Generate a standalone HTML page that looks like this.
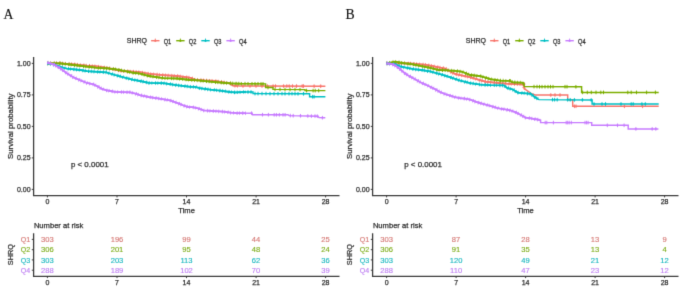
<!DOCTYPE html><html><head><meta charset="utf-8"><style>html,body{margin:0;padding:0;background:#fff;}svg{display:block;}#w{width:685px;height:297px;will-change:transform;}</style></head><body>
<div id="w"><svg width="685" height="297" viewBox="0 0 685 297" font-family='"Liberation Sans", sans-serif'>
<defs><filter id="bl" x="0" y="0" width="100%" height="100%" color-interpolation-filters="sRGB"><feConvolveMatrix order="3" kernelMatrix="0 1 0 1 6 1 0 1 0" edgeMode="duplicate"/></filter></defs>
<g filter="url(#bl)"><rect width="685" height="297" fill="#fff"/>
<g stroke-width="0.25" style="paint-order:stroke">
<text x="3.6" y="18.7" font-family='"Liberation Serif", serif' font-size="13.7" fill="#111" stroke="#111" stroke-width="0.15">A</text>
<text x="126.8" y="43.4" font-size="7" fill="#2e2e2e" stroke="#2e2e2e">SHRQ</text>
<line x1="151.1" y1="40.7" x2="159.5" y2="40.7" stroke="#F8766D" stroke-width="1.4"/>
<path d="M153.1,40.7 L155.3,39.4 L157.5,40.7 L155.3,41.7 Z" fill="#F8766D"/>
<line x1="155.3" y1="38.6" x2="155.3" y2="41.8" stroke="#F8766D" stroke-width="0.9"/>
<text transform="translate(163.7,43.6) scale(0.87,1)" font-size="6.5" fill="#2e2e2e" stroke="#2e2e2e">Q1</text>
<line x1="176.2" y1="40.7" x2="184.6" y2="40.7" stroke="#7CAE00" stroke-width="1.4"/>
<path d="M178.2,40.7 L180.4,39.4 L182.6,40.7 L180.4,41.7 Z" fill="#7CAE00"/>
<line x1="180.4" y1="38.6" x2="180.4" y2="41.8" stroke="#7CAE00" stroke-width="0.9"/>
<text transform="translate(188.8,43.6) scale(0.87,1)" font-size="6.5" fill="#2e2e2e" stroke="#2e2e2e">Q2</text>
<line x1="201.3" y1="40.7" x2="209.7" y2="40.7" stroke="#00BFC4" stroke-width="1.4"/>
<path d="M203.3,40.7 L205.5,39.4 L207.7,40.7 L205.5,41.7 Z" fill="#00BFC4"/>
<line x1="205.5" y1="38.6" x2="205.5" y2="41.8" stroke="#00BFC4" stroke-width="0.9"/>
<text transform="translate(213.9,43.6) scale(0.87,1)" font-size="6.5" fill="#2e2e2e" stroke="#2e2e2e">Q3</text>
<line x1="226.4" y1="40.7" x2="234.8" y2="40.7" stroke="#C77CFF" stroke-width="1.4"/>
<path d="M228.4,40.7 L230.6,39.4 L232.8,40.7 L230.6,41.7 Z" fill="#C77CFF"/>
<line x1="230.6" y1="38.6" x2="230.6" y2="41.8" stroke="#C77CFF" stroke-width="0.9"/>
<text transform="translate(239.0,43.6) scale(0.87,1)" font-size="6.5" fill="#2e2e2e" stroke="#2e2e2e">Q4</text>
<polyline points="47.4,63.4 60.0,63.3 73.6,64.3 87.0,65.6 96.5,66.3 108.5,68.2 121.9,71.0 135.4,71.8 140.0,72.1 148.8,73.8 163.5,75.1 176.9,76.0 190.4,77.8 195.0,79.7 205.0,80.5 215.0,81.0 225.0,82.6 231.0,83.5 233.0,85.6 240.0,86.0 325.4,86.2" fill="none" stroke="#F8766D" stroke-width="1.45" stroke-linejoin="miter"/>
<polyline points="47.4,63.4 60.0,63.3 73.6,64.3 87.0,65.6 96.5,66.3 108.5,68.2 121.9,71.0 135.4,71.8 140.0,72.1 148.8,73.8 163.5,75.1 176.9,76.0 190.4,77.8 195.0,79.7 205.0,80.5 215.0,81.0 225.0,82.6 231.0,83.5 233.0,85.6 238.0,85.9" fill="none" stroke="#F8766D" stroke-width="1.8" stroke-linejoin="miter"/>
<polyline points="47.4,63.4 60.0,63.3 73.6,64.3 87.0,65.6 96.5,66.3 108.5,68.2 121.9,71.0 135.4,71.8 140.0,72.1 148.8,73.8 163.5,75.1 176.9,76.0 190.4,77.8 195.0,79.7 205.0,80.5 215.0,81.0 225.0,82.6 231.0,83.5 233.0,85.6 238.0,85.9" fill="none" stroke="#F8766D" stroke-width="3.6" stroke-dasharray="0.8 2.0 0.7 2.9 0.9 1.5 0.7 2.5 1.0 1.8" stroke-linejoin="miter"/>
<path d="M243.0,84.2v3.6M241.8,86.0h2.4M250.0,84.2v3.6M248.8,86.0h2.4M256.0,84.2v3.6M254.8,86.0h2.4M262.0,84.3v3.6M260.8,86.1h2.4M267.4,84.3v3.6M266.2,86.1h2.4M273.1,84.3v3.6M271.9,86.1h2.4M275.5,84.3v3.6M274.3,86.1h2.4M283.6,84.3v3.6M282.4,86.1h2.4M286.8,84.3v3.6M285.6,86.1h2.4M289.2,84.3v3.6M288.0,86.1h2.4M292.5,84.3v3.6M291.3,86.1h2.4M296.5,84.3v3.6M295.3,86.1h2.4M302.2,84.3v3.6M301.0,86.1h2.4M303.5,84.3v3.6M302.3,86.1h2.4M314.1,84.4v3.6M312.9,86.2h2.4M320.7,84.4v3.6M319.5,86.2h2.4" stroke="#F8766D" stroke-width="1" fill="none"/>
<polyline points="47.4,63.4 60.2,63.4 73.6,65.0 87.1,66.7 97.5,67.9 106.3,68.3 115.0,69.2 123.8,70.9 132.5,72.7 140.0,73.6 148.8,76.0 163.5,78.1 176.9,78.5 190.4,80.0 195.0,80.1 215.0,82.1 230.0,83.3 240.0,83.7 265.6,83.9 265.6,87.5 273.0,87.5 273.0,89.4 305.0,89.6 305.0,90.6 325.4,90.6" fill="none" stroke="#7CAE00" stroke-width="1.45" stroke-linejoin="miter"/>
<polyline points="47.4,63.4 60.2,63.4 73.6,65.0 87.1,66.7 97.5,67.9 106.3,68.3 115.0,69.2 123.8,70.9 132.5,72.7 140.0,73.6 148.8,76.0 163.5,78.1 176.9,78.5 190.4,80.0 195.0,80.1 215.0,82.1 230.0,83.3 240.0,83.7 242.0,83.7" fill="none" stroke="#7CAE00" stroke-width="1.8" stroke-linejoin="miter"/>
<polyline points="47.4,63.4 60.2,63.4 73.6,65.0 87.1,66.7 97.5,67.9 106.3,68.3 115.0,69.2 123.8,70.9 132.5,72.7 140.0,73.6 148.8,76.0 163.5,78.1 176.9,78.5 190.4,80.0 195.0,80.1 215.0,82.1 230.0,83.3 240.0,83.7 242.0,83.7" fill="none" stroke="#7CAE00" stroke-width="3.6" stroke-dasharray="0.8 2.0 0.7 2.9 0.9 1.5 0.7 2.5 1.0 1.8" stroke-linejoin="miter"/>
<path d="M245.0,81.9v3.6M243.8,83.7h2.4M248.0,82.0v3.6M246.8,83.8h2.4M252.0,82.0v3.6M250.8,83.8h2.4M255.0,82.0v3.6M253.8,83.8h2.4M258.0,82.0v3.6M256.8,83.8h2.4M261.0,82.1v3.6M259.8,83.9h2.4M263.0,82.1v3.6M261.8,83.9h2.4M268.0,85.7v3.6M266.8,87.5h2.4M275.0,87.6v3.6M273.8,89.4h2.4M280.0,87.6v3.6M278.8,89.4h2.4M285.0,87.7v3.6M283.8,89.5h2.4M290.0,87.7v3.6M288.8,89.5h2.4M295.0,87.7v3.6M293.8,89.5h2.4M300.0,87.8v3.6M298.8,89.6h2.4M306.6,88.8v3.6M305.4,90.6h2.4M313.1,88.8v3.6M311.9,90.6h2.4M315.2,88.8v3.6M314.0,90.6h2.4M318.7,88.8v3.6M317.5,90.6h2.4" stroke="#7CAE00" stroke-width="1" fill="none"/>
<polyline points="47.4,63.4 53.5,64.4 60.2,66.9 66.9,68.6 73.6,69.3 80.4,70.0 87.1,71.2 97.5,71.8 106.3,72.4 115.0,75.0 123.8,77.4 132.5,79.6 140.0,81.0 148.8,82.9 163.5,83.2 176.9,85.2 190.4,86.8 195.0,86.9 200.0,88.2 210.0,89.6 220.0,90.6 230.0,92.0 235.0,92.4 245.0,92.0 253.0,92.0 253.0,93.6 309.6,93.8 309.6,96.7 325.4,96.7" fill="none" stroke="#00BFC4" stroke-width="1.45" stroke-linejoin="miter"/>
<polyline points="47.4,63.4 53.5,64.4 60.2,66.9 66.9,68.6 73.6,69.3 80.4,70.0 87.1,71.2 97.5,71.8 106.3,72.4 115.0,75.0 123.8,77.4 132.5,79.6 140.0,81.0 148.8,82.9 163.5,83.2 176.9,85.2 190.4,86.8 195.0,86.9 200.0,88.2 210.0,89.6 220.0,90.6 230.0,92.0 235.0,92.4 245.0,92.0 246.0,92.0" fill="none" stroke="#00BFC4" stroke-width="1.8" stroke-linejoin="miter"/>
<polyline points="47.4,63.4 53.5,64.4 60.2,66.9 66.9,68.6 73.6,69.3 80.4,70.0 87.1,71.2 97.5,71.8 106.3,72.4 115.0,75.0 123.8,77.4 132.5,79.6 140.0,81.0 148.8,82.9 163.5,83.2 176.9,85.2 190.4,86.8 195.0,86.9 200.0,88.2 210.0,89.6 220.0,90.6 230.0,92.0 235.0,92.4 245.0,92.0 246.0,92.0" fill="none" stroke="#00BFC4" stroke-width="3.6" stroke-dasharray="0.8 2.0 0.7 2.9 0.9 1.5 0.7 2.5 1.0 1.8" stroke-linejoin="miter"/>
<path d="M248.0,90.2v3.6M246.8,92.0h2.4M251.0,90.2v3.6M249.8,92.0h2.4M255.0,91.8v3.6M253.8,93.6h2.4M258.0,91.8v3.6M256.8,93.6h2.4M262.0,91.8v3.6M260.8,93.6h2.4M266.0,91.8v3.6M264.8,93.6h2.4M270.0,91.9v3.6M268.8,93.7h2.4M274.0,91.9v3.6M272.8,93.7h2.4M278.0,91.9v3.6M276.8,93.7h2.4M282.0,91.9v3.6M280.8,93.7h2.4M285.0,91.9v3.6M283.8,93.7h2.4M289.0,91.9v3.6M287.8,93.7h2.4M292.0,91.9v3.6M290.8,93.7h2.4M295.0,91.9v3.6M293.8,93.7h2.4M298.0,92.0v3.6M296.8,93.8h2.4M303.5,92.0v3.6M302.3,93.8h2.4M312.6,94.9v3.6M311.4,96.7h2.4M314.1,94.9v3.6M312.9,96.7h2.4" stroke="#00BFC4" stroke-width="1" fill="none"/>
<polyline points="47.4,62.6 53.5,64.4 60.2,68.3 66.9,73.3 73.6,77.4 80.4,80.4 87.1,83.0 93.4,84.4 97.6,86.4 101.8,88.8 106.1,90.2 110.3,91.0 115.0,91.8 121.9,92.1 130.0,92.3 135.4,93.6 140.0,95.2 148.8,97.0 157.5,98.3 163.5,99.3 170.0,100.4 176.9,102.8 183.5,105.5 188.2,107.0 192.5,107.2 196.9,108.0 203.7,110.4 210.4,110.9 223.9,111.7 230.6,112.6 237.3,113.1 252.0,113.2 252.5,114.7 288.0,114.8 289.0,115.6 318.0,116.2 319.0,117.6 325.3,117.8" fill="none" stroke="#C77CFF" stroke-width="1.45" stroke-linejoin="miter"/>
<polyline points="47.4,62.6 53.5,64.4 60.2,68.3 66.9,73.3 73.6,77.4 80.4,80.4 87.1,83.0 93.4,84.4 97.6,86.4 101.8,88.8 106.1,90.2 110.3,91.0 115.0,91.8 121.9,92.1 130.0,92.3 135.4,93.6 140.0,95.2 148.8,97.0 157.5,98.3 163.5,99.3 170.0,100.4 176.9,102.8 183.5,105.5 188.2,107.0 192.5,107.2 196.9,108.0 203.7,110.4 210.4,110.9 223.9,111.7 230.6,112.6 237.3,113.1 246.0,113.2" fill="none" stroke="#C77CFF" stroke-width="1.8" stroke-linejoin="miter"/>
<polyline points="47.4,62.6 53.5,64.4 60.2,68.3 66.9,73.3 73.6,77.4 80.4,80.4 87.1,83.0 93.4,84.4 97.6,86.4 101.8,88.8 106.1,90.2 110.3,91.0 115.0,91.8 121.9,92.1 130.0,92.3 135.4,93.6 140.0,95.2 148.8,97.0 157.5,98.3 163.5,99.3 170.0,100.4 176.9,102.8 183.5,105.5 188.2,107.0 192.5,107.2 196.9,108.0 203.7,110.4 210.4,110.9 223.9,111.7 230.6,112.6 237.3,113.1 246.0,113.2" fill="none" stroke="#C77CFF" stroke-width="3.6" stroke-dasharray="0.8 2.0 0.7 2.9 0.9 1.5 0.7 2.5 1.0 1.8" stroke-linejoin="miter"/>
<path d="M251.6,111.4v3.6M250.4,113.2h2.4M262.5,112.9v3.6M261.3,114.7h2.4M268.4,112.9v3.6M267.2,114.7h2.4M274.2,113.0v3.6M273.0,114.8h2.4M276.4,113.0v3.6M275.2,114.8h2.4M279.3,113.0v3.6M278.1,114.8h2.4M283.0,113.0v3.6M281.8,114.8h2.4M285.1,113.0v3.6M283.9,114.8h2.4M290.3,113.8v3.6M289.1,115.6h2.4M293.2,113.9v3.6M292.0,115.7h2.4M300.5,114.0v3.6M299.3,115.8h2.4M307.8,114.2v3.6M306.6,116.0h2.4M311.4,114.3v3.6M310.2,116.1h2.4M315.0,114.3v3.6M313.8,116.1h2.4M317.3,114.4v3.6M316.1,116.2h2.4M322.4,115.9v3.6M321.2,117.7h2.4" stroke="#C77CFF" stroke-width="1" fill="none"/>
<path d="M33.6,57.1 V195.6 H339.5" fill="none" stroke="#3c3c3c" stroke-width="1.3"/>
<line x1="31.8" y1="63.4" x2="33.6" y2="63.4" stroke="#3c3c3c" stroke-width="1"/>
<text x="30.6" y="65.9" font-size="7" fill="#2e2e2e" stroke="#2e2e2e" text-anchor="end">1.00</text>
<line x1="31.8" y1="94.9" x2="33.6" y2="94.9" stroke="#3c3c3c" stroke-width="1"/>
<text x="30.6" y="97.4" font-size="7" fill="#2e2e2e" stroke="#2e2e2e" text-anchor="end">0.75</text>
<line x1="31.8" y1="126.4" x2="33.6" y2="126.4" stroke="#3c3c3c" stroke-width="1"/>
<text x="30.6" y="128.9" font-size="7" fill="#2e2e2e" stroke="#2e2e2e" text-anchor="end">0.50</text>
<line x1="31.8" y1="157.9" x2="33.6" y2="157.9" stroke="#3c3c3c" stroke-width="1"/>
<text x="30.6" y="160.4" font-size="7" fill="#2e2e2e" stroke="#2e2e2e" text-anchor="end">0.25</text>
<line x1="31.8" y1="189.4" x2="33.6" y2="189.4" stroke="#3c3c3c" stroke-width="1"/>
<text x="30.6" y="191.9" font-size="7" fill="#2e2e2e" stroke="#2e2e2e" text-anchor="end">0.00</text>
<line x1="47.4" y1="195.6" x2="47.4" y2="197.4" stroke="#3c3c3c" stroke-width="1"/>
<text x="47.4" y="204" font-size="7" fill="#2e2e2e" stroke="#2e2e2e" text-anchor="middle">0</text>
<line x1="117.0" y1="195.6" x2="117.0" y2="197.4" stroke="#3c3c3c" stroke-width="1"/>
<text x="117.0" y="204" font-size="7" fill="#2e2e2e" stroke="#2e2e2e" text-anchor="middle">7</text>
<line x1="186.5" y1="195.6" x2="186.5" y2="197.4" stroke="#3c3c3c" stroke-width="1"/>
<text x="186.5" y="204" font-size="7" fill="#2e2e2e" stroke="#2e2e2e" text-anchor="middle">14</text>
<line x1="256.1" y1="195.6" x2="256.1" y2="197.4" stroke="#3c3c3c" stroke-width="1"/>
<text x="256.1" y="204" font-size="7" fill="#2e2e2e" stroke="#2e2e2e" text-anchor="middle">21</text>
<line x1="325.6" y1="195.6" x2="325.6" y2="197.4" stroke="#3c3c3c" stroke-width="1"/>
<text x="325.6" y="204" font-size="7" fill="#2e2e2e" stroke="#2e2e2e" text-anchor="middle">28</text>
<text x="186.6" y="213" font-size="7.6" fill="#2e2e2e" stroke="#2e2e2e" text-anchor="middle">Time</text>
<text transform="translate(13.3,126.2) rotate(-90)" font-size="7.8" fill="#2e2e2e" stroke="#2e2e2e" text-anchor="middle">Survival probability</text>
<text x="70.9" y="167.1" font-size="7.95" fill="#2e2e2e" stroke="#2e2e2e">p &lt; 0.0001</text>
<text x="33.9" y="228" font-size="7.6" fill="#2e2e2e" stroke="#2e2e2e">Number at risk</text>
<path d="M33.6,233.2 V276.3 H339.5" fill="none" stroke="#3c3c3c" stroke-width="1.3"/>
<line x1="31.8" y1="239.4" x2="33.6" y2="239.4" stroke="#3c3c3c" stroke-width="1"/>
<text x="30.2" y="242.0" font-size="7.1" fill="#D67A76" stroke="#D67A76" stroke-width="0.15" text-anchor="end">Q1</text>
<text x="47.4" y="242.0" font-size="7.6" fill="#D67A76" stroke="#D67A76" stroke-width="0.15" text-anchor="middle">303</text>
<text x="117.0" y="242.0" font-size="7.6" fill="#D67A76" stroke="#D67A76" stroke-width="0.15" text-anchor="middle">196</text>
<text x="186.5" y="242.0" font-size="7.6" fill="#D67A76" stroke="#D67A76" stroke-width="0.15" text-anchor="middle">99</text>
<text x="256.1" y="242.0" font-size="7.6" fill="#D67A76" stroke="#D67A76" stroke-width="0.15" text-anchor="middle">44</text>
<text x="325.6" y="242.0" font-size="7.6" fill="#D67A76" stroke="#D67A76" stroke-width="0.15" text-anchor="middle">25</text>
<line x1="31.8" y1="249.7" x2="33.6" y2="249.7" stroke="#3c3c3c" stroke-width="1"/>
<text x="30.2" y="252.3" font-size="7.1" fill="#7FAE1C" stroke="#7FAE1C" stroke-width="0.15" text-anchor="end">Q2</text>
<text x="47.4" y="252.3" font-size="7.6" fill="#7FAE1C" stroke="#7FAE1C" stroke-width="0.15" text-anchor="middle">306</text>
<text x="117.0" y="252.3" font-size="7.6" fill="#7FAE1C" stroke="#7FAE1C" stroke-width="0.15" text-anchor="middle">201</text>
<text x="186.5" y="252.3" font-size="7.6" fill="#7FAE1C" stroke="#7FAE1C" stroke-width="0.15" text-anchor="middle">95</text>
<text x="256.1" y="252.3" font-size="7.6" fill="#7FAE1C" stroke="#7FAE1C" stroke-width="0.15" text-anchor="middle">48</text>
<text x="325.6" y="252.3" font-size="7.6" fill="#7FAE1C" stroke="#7FAE1C" stroke-width="0.15" text-anchor="middle">24</text>
<line x1="31.8" y1="259.9" x2="33.6" y2="259.9" stroke="#3c3c3c" stroke-width="1"/>
<text x="30.2" y="262.5" font-size="7.1" fill="#1DB8C0" stroke="#1DB8C0" stroke-width="0.15" text-anchor="end">Q3</text>
<text x="47.4" y="262.5" font-size="7.6" fill="#1DB8C0" stroke="#1DB8C0" stroke-width="0.15" text-anchor="middle">303</text>
<text x="117.0" y="262.5" font-size="7.6" fill="#1DB8C0" stroke="#1DB8C0" stroke-width="0.15" text-anchor="middle">203</text>
<text x="186.5" y="262.5" font-size="7.6" fill="#1DB8C0" stroke="#1DB8C0" stroke-width="0.15" text-anchor="middle">113</text>
<text x="256.1" y="262.5" font-size="7.6" fill="#1DB8C0" stroke="#1DB8C0" stroke-width="0.15" text-anchor="middle">62</text>
<text x="325.6" y="262.5" font-size="7.6" fill="#1DB8C0" stroke="#1DB8C0" stroke-width="0.15" text-anchor="middle">36</text>
<line x1="31.8" y1="270.2" x2="33.6" y2="270.2" stroke="#3c3c3c" stroke-width="1"/>
<text x="30.2" y="272.8" font-size="7.1" fill="#BF82F2" stroke="#BF82F2" stroke-width="0.15" text-anchor="end">Q4</text>
<text x="47.4" y="272.8" font-size="7.6" fill="#BF82F2" stroke="#BF82F2" stroke-width="0.15" text-anchor="middle">288</text>
<text x="117.0" y="272.8" font-size="7.6" fill="#BF82F2" stroke="#BF82F2" stroke-width="0.15" text-anchor="middle">189</text>
<text x="186.5" y="272.8" font-size="7.6" fill="#BF82F2" stroke="#BF82F2" stroke-width="0.15" text-anchor="middle">102</text>
<text x="256.1" y="272.8" font-size="7.6" fill="#BF82F2" stroke="#BF82F2" stroke-width="0.15" text-anchor="middle">70</text>
<text x="325.6" y="272.8" font-size="7.6" fill="#BF82F2" stroke="#BF82F2" stroke-width="0.15" text-anchor="middle">39</text>
<line x1="47.4" y1="276.3" x2="47.4" y2="278.1" stroke="#3c3c3c" stroke-width="1"/>
<text x="47.4" y="284.8" font-size="7" fill="#2e2e2e" stroke="#2e2e2e" text-anchor="middle">0</text>
<line x1="117.0" y1="276.3" x2="117.0" y2="278.1" stroke="#3c3c3c" stroke-width="1"/>
<text x="117.0" y="284.8" font-size="7" fill="#2e2e2e" stroke="#2e2e2e" text-anchor="middle">7</text>
<line x1="186.5" y1="276.3" x2="186.5" y2="278.1" stroke="#3c3c3c" stroke-width="1"/>
<text x="186.5" y="284.8" font-size="7" fill="#2e2e2e" stroke="#2e2e2e" text-anchor="middle">14</text>
<line x1="256.1" y1="276.3" x2="256.1" y2="278.1" stroke="#3c3c3c" stroke-width="1"/>
<text x="256.1" y="284.8" font-size="7" fill="#2e2e2e" stroke="#2e2e2e" text-anchor="middle">21</text>
<line x1="325.6" y1="276.3" x2="325.6" y2="278.1" stroke="#3c3c3c" stroke-width="1"/>
<text x="325.6" y="284.8" font-size="7" fill="#2e2e2e" stroke="#2e2e2e" text-anchor="middle">28</text>
<text transform="translate(13.1,254.6) rotate(-90)" font-size="7.3" fill="#2e2e2e" stroke="#2e2e2e" text-anchor="middle">SHRQ</text>
<text x="345.4" y="18.7" font-family='"Liberation Serif", serif' font-size="13.7" fill="#111" stroke="#111" stroke-width="0.15">B</text>
<text x="465.8" y="43.4" font-size="7" fill="#2e2e2e" stroke="#2e2e2e">SHRQ</text>
<line x1="490.1" y1="40.7" x2="498.5" y2="40.7" stroke="#F8766D" stroke-width="1.4"/>
<path d="M492.1,40.7 L494.3,39.4 L496.5,40.7 L494.3,41.7 Z" fill="#F8766D"/>
<line x1="494.3" y1="38.6" x2="494.3" y2="41.8" stroke="#F8766D" stroke-width="0.9"/>
<text transform="translate(502.7,43.6) scale(0.87,1)" font-size="6.5" fill="#2e2e2e" stroke="#2e2e2e">Q1</text>
<line x1="515.2" y1="40.7" x2="523.6" y2="40.7" stroke="#7CAE00" stroke-width="1.4"/>
<path d="M517.2,40.7 L519.4,39.4 L521.6,40.7 L519.4,41.7 Z" fill="#7CAE00"/>
<line x1="519.4" y1="38.6" x2="519.4" y2="41.8" stroke="#7CAE00" stroke-width="0.9"/>
<text transform="translate(527.8,43.6) scale(0.87,1)" font-size="6.5" fill="#2e2e2e" stroke="#2e2e2e">Q2</text>
<line x1="540.3" y1="40.7" x2="548.7" y2="40.7" stroke="#00BFC4" stroke-width="1.4"/>
<path d="M542.3,40.7 L544.5,39.4 L546.7,40.7 L544.5,41.7 Z" fill="#00BFC4"/>
<line x1="544.5" y1="38.6" x2="544.5" y2="41.8" stroke="#00BFC4" stroke-width="0.9"/>
<text transform="translate(552.9,43.6) scale(0.87,1)" font-size="6.5" fill="#2e2e2e" stroke="#2e2e2e">Q3</text>
<line x1="565.4" y1="40.7" x2="573.8" y2="40.7" stroke="#C77CFF" stroke-width="1.4"/>
<path d="M567.4,40.7 L569.6,39.4 L571.8,40.7 L569.6,41.7 Z" fill="#C77CFF"/>
<line x1="569.6" y1="38.6" x2="569.6" y2="41.8" stroke="#C77CFF" stroke-width="0.9"/>
<text transform="translate(578.0,43.6) scale(0.87,1)" font-size="6.5" fill="#2e2e2e" stroke="#2e2e2e">Q4</text>
<polyline points="386.6,63.4 395.0,63.0 410.0,63.5 425.6,64.8 434.4,66.5 440.0,67.6 445.0,68.5 452.0,72.5 455.2,74.0 460.2,75.1 470.3,77.2 478.4,79.7 485.5,81.7 500.0,83.2 507.0,83.7 521.0,84.3 523.5,84.5 524.5,88.8 531.0,93.4 535.0,95.0 567.7,95.0 567.7,99.7 572.7,99.7 572.7,106.3 658.7,106.3" fill="none" stroke="#F8766D" stroke-width="1.45" stroke-linejoin="miter"/>
<polyline points="386.6,63.4 395.0,63.0 410.0,63.5 425.6,64.8 434.4,66.5 440.0,67.6 445.0,68.5 452.0,72.5 455.2,74.0 460.2,75.1 470.3,77.2 478.4,79.7 485.5,81.7 500.0,83.2 507.0,83.7 521.0,84.3 523.5,84.5 524.5,88.8 525.0,89.2" fill="none" stroke="#F8766D" stroke-width="1.8" stroke-linejoin="miter"/>
<polyline points="386.6,63.4 395.0,63.0 410.0,63.5 425.6,64.8 434.4,66.5 440.0,67.6 445.0,68.5 452.0,72.5 455.2,74.0 460.2,75.1 470.3,77.2 478.4,79.7 485.5,81.7 500.0,83.2 507.0,83.7 521.0,84.3 523.5,84.5 524.5,88.8 525.0,89.2" fill="none" stroke="#F8766D" stroke-width="3.6" stroke-dasharray="0.8 2.0 0.7 2.9 0.9 1.5 0.7 2.5 1.0 1.8" stroke-linejoin="miter"/>
<path d="M550.8,93.2v3.6M549.6,95.0h2.4M555.0,93.2v3.6M553.8,95.0h2.4M560.0,93.2v3.6M558.8,95.0h2.4M574.4,104.5v3.6M573.2,106.3h2.4M576.0,104.5v3.6M574.8,106.3h2.4M624.4,104.5v3.6M623.2,106.3h2.4M642.6,104.5v3.6M641.4,106.3h2.4" stroke="#F8766D" stroke-width="1" fill="none"/>
<polyline points="386.6,63.4 395.0,61.7 403.8,63.2 412.5,64.3 421.3,66.1 430.0,67.8 438.8,70.0 447.5,70.4 455.0,70.9 461.9,71.7 470.3,75.0 480.4,76.2 490.5,79.2 500.0,80.6 510.0,80.8 512.5,82.3 523.0,82.6 524.5,86.6 581.6,86.8 581.6,92.4 658.7,92.4" fill="none" stroke="#7CAE00" stroke-width="1.45" stroke-linejoin="miter"/>
<polyline points="386.6,63.4 395.0,61.7 403.8,63.2 412.5,64.3 421.3,66.1 430.0,67.8 438.8,70.0 447.5,70.4 455.0,70.9 461.9,71.7 470.3,75.0 480.4,76.2 490.5,79.2 500.0,80.6 510.0,80.8 512.5,82.3 523.0,82.6 524.0,85.3" fill="none" stroke="#7CAE00" stroke-width="1.8" stroke-linejoin="miter"/>
<polyline points="386.6,63.4 395.0,61.7 403.8,63.2 412.5,64.3 421.3,66.1 430.0,67.8 438.8,70.0 447.5,70.4 455.0,70.9 461.9,71.7 470.3,75.0 480.4,76.2 490.5,79.2 500.0,80.6 510.0,80.8 512.5,82.3 523.0,82.6 524.0,85.3" fill="none" stroke="#7CAE00" stroke-width="3.6" stroke-dasharray="0.8 2.0 0.7 2.9 0.9 1.5 0.7 2.5 1.0 1.8" stroke-linejoin="miter"/>
<path d="M534.0,84.8v3.6M532.8,86.6h2.4M537.0,84.8v3.6M535.8,86.6h2.4M539.5,84.9v3.6M538.3,86.7h2.4M542.0,84.9v3.6M540.8,86.7h2.4M545.0,84.9v3.6M543.8,86.7h2.4M548.0,84.9v3.6M546.8,86.7h2.4M550.5,84.9v3.6M549.3,86.7h2.4M553.0,84.9v3.6M551.8,86.7h2.4M565.0,84.9v3.6M563.8,86.7h2.4M567.0,84.9v3.6M565.8,86.7h2.4M575.9,85.0v3.6M574.7,86.8h2.4M582.6,90.6v3.6M581.4,92.4h2.4M587.3,90.6v3.6M586.1,92.4h2.4M591.3,90.6v3.6M590.1,92.4h2.4M596.0,90.6v3.6M594.8,92.4h2.4M600.8,90.6v3.6M599.6,92.4h2.4M603.5,90.6v3.6M602.3,92.4h2.4M627.8,90.6v3.6M626.6,92.4h2.4M631.2,90.6v3.6M630.0,92.4h2.4M636.5,90.6v3.6M635.3,92.4h2.4M646.6,90.6v3.6M645.4,92.4h2.4M655.4,90.6v3.6M654.2,92.4h2.4" stroke="#7CAE00" stroke-width="1" fill="none"/>
<polyline points="386.6,63.4 395.0,64.2 400.2,66.5 408.3,68.1 414.0,69.2 421.3,70.0 430.0,71.4 440.0,74.1 450.1,77.2 460.2,80.6 470.3,83.1 480.4,84.6 490.5,85.2 504.0,85.4 507.0,87.9 512.9,89.5 515.6,91.3 518.0,92.6 531.0,93.9 534.0,96.6 539.0,99.6 592.1,100.0 592.1,104.0 658.7,104.0" fill="none" stroke="#00BFC4" stroke-width="1.45" stroke-linejoin="miter"/>
<polyline points="386.6,63.4 395.0,64.2 400.2,66.5 408.3,68.1 414.0,69.2 421.3,70.0 430.0,71.4 440.0,74.1 450.1,77.2 460.2,80.6 470.3,83.1 480.4,84.6 490.5,85.2 504.0,85.4 507.0,87.9 512.9,89.5 515.6,91.3 518.0,92.6 531.0,93.9 534.0,96.6 538.0,99.0" fill="none" stroke="#00BFC4" stroke-width="1.8" stroke-linejoin="miter"/>
<polyline points="386.6,63.4 395.0,64.2 400.2,66.5 408.3,68.1 414.0,69.2 421.3,70.0 430.0,71.4 440.0,74.1 450.1,77.2 460.2,80.6 470.3,83.1 480.4,84.6 490.5,85.2 504.0,85.4 507.0,87.9 512.9,89.5 515.6,91.3 518.0,92.6 531.0,93.9 534.0,96.6 538.0,99.0" fill="none" stroke="#00BFC4" stroke-width="3.6" stroke-dasharray="0.8 2.0 0.7 2.9 0.9 1.5 0.7 2.5 1.0 1.8" stroke-linejoin="miter"/>
<path d="M552.5,97.9v3.6M551.3,99.7h2.4M554.6,97.9v3.6M553.4,99.7h2.4M557.2,97.9v3.6M556.0,99.7h2.4M567.7,98.0v3.6M566.5,99.8h2.4M570.2,98.0v3.6M569.0,99.8h2.4M574.4,98.1v3.6M573.2,99.9h2.4M582.4,98.1v3.6M581.2,99.9h2.4M591.2,98.2v3.6M590.0,100.0h2.4M594.0,102.2v3.6M592.8,104.0h2.4M602.0,102.2v3.6M600.8,104.0h2.4M605.5,102.2v3.6M604.3,104.0h2.4M621.0,102.2v3.6M619.8,104.0h2.4M631.2,102.2v3.6M630.0,104.0h2.4M633.2,102.2v3.6M632.0,104.0h2.4M641.9,102.2v3.6M640.7,104.0h2.4M645.3,102.2v3.6M644.1,104.0h2.4" stroke="#00BFC4" stroke-width="1" fill="none"/>
<polyline points="386.6,63.3 392.1,64.1 396.1,66.1 400.2,69.3 404.2,72.8 408.3,75.6 414.0,78.6 420.4,82.3 427.1,85.3 435.0,89.1 440.1,92.0 445.2,94.1 450.2,95.6 455.3,97.2 460.3,98.2 465.4,98.7 470.4,99.7 475.5,101.7 480.5,103.2 490.2,105.9 496.9,107.9 500.2,108.6 505.0,109.4 510.4,110.4 515.4,112.2 520.4,114.7 525.5,117.6 530.6,118.3 540.6,120.1 540.6,122.6 591.7,122.6 591.7,125.3 628.2,125.3 628.2,128.9 658.4,128.9" fill="none" stroke="#C77CFF" stroke-width="1.45" stroke-linejoin="miter"/>
<polyline points="386.6,63.3 392.1,64.1 396.1,66.1 400.2,69.3 404.2,72.8 408.3,75.6 414.0,78.6 420.4,82.3 427.1,85.3 435.0,89.1 440.1,92.0 445.2,94.1 450.2,95.6 455.3,97.2 460.3,98.2 465.4,98.7 470.4,99.7 475.5,101.7 480.5,103.2 490.2,105.9 496.9,107.9 500.2,108.6 505.0,109.4 510.4,110.4 515.4,112.2 520.4,114.7 525.5,117.6 530.6,118.3 540.0,120.0" fill="none" stroke="#C77CFF" stroke-width="1.8" stroke-linejoin="miter"/>
<polyline points="386.6,63.3 392.1,64.1 396.1,66.1 400.2,69.3 404.2,72.8 408.3,75.6 414.0,78.6 420.4,82.3 427.1,85.3 435.0,89.1 440.1,92.0 445.2,94.1 450.2,95.6 455.3,97.2 460.3,98.2 465.4,98.7 470.4,99.7 475.5,101.7 480.5,103.2 490.2,105.9 496.9,107.9 500.2,108.6 505.0,109.4 510.4,110.4 515.4,112.2 520.4,114.7 525.5,117.6 530.6,118.3 540.0,120.0" fill="none" stroke="#C77CFF" stroke-width="3.6" stroke-dasharray="0.8 2.0 0.7 2.9 0.9 1.5 0.7 2.5 1.0 1.8" stroke-linejoin="miter"/>
<path d="M545.2,120.8v3.6M544.0,122.6h2.4M546.8,120.8v3.6M545.6,122.6h2.4M553.4,120.8v3.6M552.2,122.6h2.4M566.2,120.8v3.6M565.0,122.6h2.4M567.7,120.8v3.6M566.5,122.6h2.4M569.2,120.8v3.6M568.0,122.6h2.4M571.3,120.8v3.6M570.1,122.6h2.4M585.0,120.8v3.6M583.8,122.6h2.4M586.6,120.8v3.6M585.4,122.6h2.4M588.1,120.8v3.6M586.9,122.6h2.4M607.3,123.5v3.6M606.1,125.3h2.4M617.5,123.5v3.6M616.3,125.3h2.4M624.1,123.5v3.6M622.9,125.3h2.4M635.9,127.1v3.6M634.7,128.9h2.4M652.2,127.1v3.6M651.0,128.9h2.4M655.8,127.1v3.6M654.6,128.9h2.4" stroke="#C77CFF" stroke-width="1" fill="none"/>
<path d="M372.6,57.1 V195.6 H678.5" fill="none" stroke="#3c3c3c" stroke-width="1.3"/>
<line x1="370.8" y1="63.4" x2="372.6" y2="63.4" stroke="#3c3c3c" stroke-width="1"/>
<text x="369.6" y="65.9" font-size="7" fill="#2e2e2e" stroke="#2e2e2e" text-anchor="end">1.00</text>
<line x1="370.8" y1="94.9" x2="372.6" y2="94.9" stroke="#3c3c3c" stroke-width="1"/>
<text x="369.6" y="97.4" font-size="7" fill="#2e2e2e" stroke="#2e2e2e" text-anchor="end">0.75</text>
<line x1="370.8" y1="126.4" x2="372.6" y2="126.4" stroke="#3c3c3c" stroke-width="1"/>
<text x="369.6" y="128.9" font-size="7" fill="#2e2e2e" stroke="#2e2e2e" text-anchor="end">0.50</text>
<line x1="370.8" y1="157.9" x2="372.6" y2="157.9" stroke="#3c3c3c" stroke-width="1"/>
<text x="369.6" y="160.4" font-size="7" fill="#2e2e2e" stroke="#2e2e2e" text-anchor="end">0.25</text>
<line x1="370.8" y1="189.4" x2="372.6" y2="189.4" stroke="#3c3c3c" stroke-width="1"/>
<text x="369.6" y="191.9" font-size="7" fill="#2e2e2e" stroke="#2e2e2e" text-anchor="end">0.00</text>
<line x1="386.6" y1="195.6" x2="386.6" y2="197.4" stroke="#3c3c3c" stroke-width="1"/>
<text x="386.6" y="204" font-size="7" fill="#2e2e2e" stroke="#2e2e2e" text-anchor="middle">0</text>
<line x1="456.1" y1="195.6" x2="456.1" y2="197.4" stroke="#3c3c3c" stroke-width="1"/>
<text x="456.1" y="204" font-size="7" fill="#2e2e2e" stroke="#2e2e2e" text-anchor="middle">7</text>
<line x1="525.6" y1="195.6" x2="525.6" y2="197.4" stroke="#3c3c3c" stroke-width="1"/>
<text x="525.6" y="204" font-size="7" fill="#2e2e2e" stroke="#2e2e2e" text-anchor="middle">14</text>
<line x1="595.1" y1="195.6" x2="595.1" y2="197.4" stroke="#3c3c3c" stroke-width="1"/>
<text x="595.1" y="204" font-size="7" fill="#2e2e2e" stroke="#2e2e2e" text-anchor="middle">21</text>
<line x1="664.6" y1="195.6" x2="664.6" y2="197.4" stroke="#3c3c3c" stroke-width="1"/>
<text x="664.6" y="204" font-size="7" fill="#2e2e2e" stroke="#2e2e2e" text-anchor="middle">28</text>
<text x="525.5" y="213" font-size="7.6" fill="#2e2e2e" stroke="#2e2e2e" text-anchor="middle">Time</text>
<text transform="translate(352.3,126.2) rotate(-90)" font-size="7.8" fill="#2e2e2e" stroke="#2e2e2e" text-anchor="middle">Survival probability</text>
<text x="404.2" y="167.1" font-size="7.95" fill="#2e2e2e" stroke="#2e2e2e">p &lt; 0.0001</text>
<text x="372.9" y="228" font-size="7.6" fill="#2e2e2e" stroke="#2e2e2e">Number at risk</text>
<path d="M372.6,233.2 V276.3 H678.5" fill="none" stroke="#3c3c3c" stroke-width="1.3"/>
<line x1="370.8" y1="239.4" x2="372.6" y2="239.4" stroke="#3c3c3c" stroke-width="1"/>
<text x="369.2" y="242.0" font-size="7.1" fill="#D67A76" stroke="#D67A76" stroke-width="0.15" text-anchor="end">Q1</text>
<text x="386.6" y="242.0" font-size="7.6" fill="#D67A76" stroke="#D67A76" stroke-width="0.15" text-anchor="middle">303</text>
<text x="456.1" y="242.0" font-size="7.6" fill="#D67A76" stroke="#D67A76" stroke-width="0.15" text-anchor="middle">87</text>
<text x="525.6" y="242.0" font-size="7.6" fill="#D67A76" stroke="#D67A76" stroke-width="0.15" text-anchor="middle">28</text>
<text x="595.1" y="242.0" font-size="7.6" fill="#D67A76" stroke="#D67A76" stroke-width="0.15" text-anchor="middle">13</text>
<text x="664.6" y="242.0" font-size="7.6" fill="#D67A76" stroke="#D67A76" stroke-width="0.15" text-anchor="middle">9</text>
<line x1="370.8" y1="249.7" x2="372.6" y2="249.7" stroke="#3c3c3c" stroke-width="1"/>
<text x="369.2" y="252.3" font-size="7.1" fill="#7FAE1C" stroke="#7FAE1C" stroke-width="0.15" text-anchor="end">Q2</text>
<text x="386.6" y="252.3" font-size="7.6" fill="#7FAE1C" stroke="#7FAE1C" stroke-width="0.15" text-anchor="middle">306</text>
<text x="456.1" y="252.3" font-size="7.6" fill="#7FAE1C" stroke="#7FAE1C" stroke-width="0.15" text-anchor="middle">91</text>
<text x="525.6" y="252.3" font-size="7.6" fill="#7FAE1C" stroke="#7FAE1C" stroke-width="0.15" text-anchor="middle">35</text>
<text x="595.1" y="252.3" font-size="7.6" fill="#7FAE1C" stroke="#7FAE1C" stroke-width="0.15" text-anchor="middle">13</text>
<text x="664.6" y="252.3" font-size="7.6" fill="#7FAE1C" stroke="#7FAE1C" stroke-width="0.15" text-anchor="middle">4</text>
<line x1="370.8" y1="259.9" x2="372.6" y2="259.9" stroke="#3c3c3c" stroke-width="1"/>
<text x="369.2" y="262.5" font-size="7.1" fill="#1DB8C0" stroke="#1DB8C0" stroke-width="0.15" text-anchor="end">Q3</text>
<text x="386.6" y="262.5" font-size="7.6" fill="#1DB8C0" stroke="#1DB8C0" stroke-width="0.15" text-anchor="middle">303</text>
<text x="456.1" y="262.5" font-size="7.6" fill="#1DB8C0" stroke="#1DB8C0" stroke-width="0.15" text-anchor="middle">120</text>
<text x="525.6" y="262.5" font-size="7.6" fill="#1DB8C0" stroke="#1DB8C0" stroke-width="0.15" text-anchor="middle">49</text>
<text x="595.1" y="262.5" font-size="7.6" fill="#1DB8C0" stroke="#1DB8C0" stroke-width="0.15" text-anchor="middle">21</text>
<text x="664.6" y="262.5" font-size="7.6" fill="#1DB8C0" stroke="#1DB8C0" stroke-width="0.15" text-anchor="middle">12</text>
<line x1="370.8" y1="270.2" x2="372.6" y2="270.2" stroke="#3c3c3c" stroke-width="1"/>
<text x="369.2" y="272.8" font-size="7.1" fill="#BF82F2" stroke="#BF82F2" stroke-width="0.15" text-anchor="end">Q4</text>
<text x="386.6" y="272.8" font-size="7.6" fill="#BF82F2" stroke="#BF82F2" stroke-width="0.15" text-anchor="middle">288</text>
<text x="456.1" y="272.8" font-size="7.6" fill="#BF82F2" stroke="#BF82F2" stroke-width="0.15" text-anchor="middle">110</text>
<text x="525.6" y="272.8" font-size="7.6" fill="#BF82F2" stroke="#BF82F2" stroke-width="0.15" text-anchor="middle">47</text>
<text x="595.1" y="272.8" font-size="7.6" fill="#BF82F2" stroke="#BF82F2" stroke-width="0.15" text-anchor="middle">23</text>
<text x="664.6" y="272.8" font-size="7.6" fill="#BF82F2" stroke="#BF82F2" stroke-width="0.15" text-anchor="middle">12</text>
<line x1="386.6" y1="276.3" x2="386.6" y2="278.1" stroke="#3c3c3c" stroke-width="1"/>
<text x="386.6" y="284.8" font-size="7" fill="#2e2e2e" stroke="#2e2e2e" text-anchor="middle">0</text>
<line x1="456.1" y1="276.3" x2="456.1" y2="278.1" stroke="#3c3c3c" stroke-width="1"/>
<text x="456.1" y="284.8" font-size="7" fill="#2e2e2e" stroke="#2e2e2e" text-anchor="middle">7</text>
<line x1="525.6" y1="276.3" x2="525.6" y2="278.1" stroke="#3c3c3c" stroke-width="1"/>
<text x="525.6" y="284.8" font-size="7" fill="#2e2e2e" stroke="#2e2e2e" text-anchor="middle">14</text>
<line x1="595.1" y1="276.3" x2="595.1" y2="278.1" stroke="#3c3c3c" stroke-width="1"/>
<text x="595.1" y="284.8" font-size="7" fill="#2e2e2e" stroke="#2e2e2e" text-anchor="middle">21</text>
<line x1="664.6" y1="276.3" x2="664.6" y2="278.1" stroke="#3c3c3c" stroke-width="1"/>
<text x="664.6" y="284.8" font-size="7" fill="#2e2e2e" stroke="#2e2e2e" text-anchor="middle">28</text>
<text transform="translate(352.1,254.6) rotate(-90)" font-size="7.3" fill="#2e2e2e" stroke="#2e2e2e" text-anchor="middle">SHRQ</text>
</g></g></svg></div></body></html>
